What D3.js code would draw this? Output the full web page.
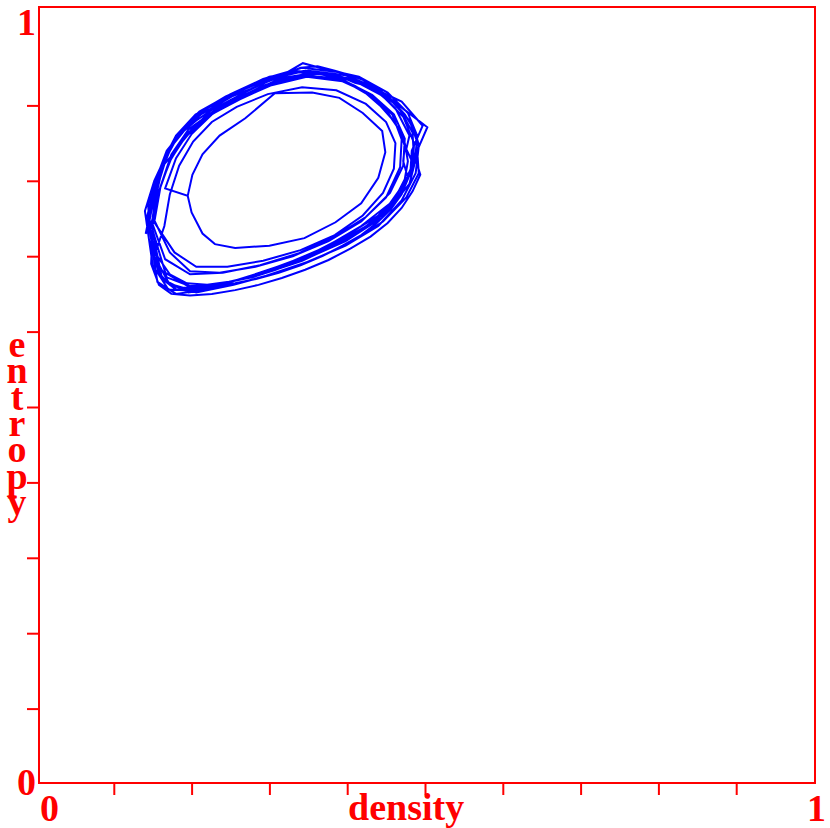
<!DOCTYPE html>
<html>
<head>
<meta charset="utf-8">
<script src="https://cdn.jsdelivr.net/npm/d3@7"></script>
<style>
  body { margin: 0; background: #fff; }
  svg text { font-family: "Liberation Serif", "DejaVu Serif", serif; font-weight: bold; fill: #ff0000; }
</style>
</head>
<body>
<svg id="chart" width="830" height="828"></svg>
<script>
// trajectory in (density, entropy), one row per cycle
const density = [
    0.195, 0.201, 0.214, 0.236, 0.269, 0.307, 0.355, 0.390, 0.420, 0.445, 0.449, 0.440, 0.418, 0.385, 0.345, 0.300, 0.256, 0.230, 0.214, 0.200, 0.195,
    0.166, 0.180, 0.200, 0.226, 0.262, 0.300, 0.345, 0.392, 0.430, 0.458, 0.470, 0.468, 0.450, 0.418, 0.376, 0.330, 0.282, 0.236, 0.198, 0.172,
    0.150, 0.156, 0.168, 0.186, 0.210, 0.250, 0.292, 0.342, 0.390, 0.432, 0.466, 0.484, 0.486, 0.468, 0.436, 0.392, 0.342, 0.290, 0.240, 0.196, 0.160,
    0.142, 0.150, 0.163, 0.180, 0.205, 0.245, 0.288, 0.336, 0.380, 0.425, 0.470, 0.497, 0.483, 0.481, 0.455, 0.418, 0.372, 0.322, 0.270, 0.220, 0.180, 0.156,
    0.148, 0.152, 0.162, 0.176, 0.198, 0.230, 0.275, 0.320, 0.343, 0.372, 0.415, 0.452, 0.478, 0.490, 0.487, 0.472, 0.440, 0.400, 0.352, 0.300, 0.250, 0.205, 0.170, 0.150,
    0.140, 0.152, 0.170, 0.192, 0.220, 0.258, 0.300, 0.350, 0.398, 0.440, 0.470, 0.503, 0.490, 0.492, 0.476, 0.446, 0.404, 0.356, 0.304, 0.254, 0.206, 0.172, 0.152,
    0.165, 0.172, 0.184, 0.202, 0.226, 0.258, 0.298, 0.342, 0.386, 0.424, 0.450, 0.462, 0.460, 0.446, 0.420, 0.384, 0.340, 0.292, 0.246, 0.206, 0.178,
    0.152, 0.160, 0.174, 0.196, 0.228, 0.268, 0.315, 0.362, 0.405, 0.445, 0.472, 0.486, 0.484, 0.466, 0.437, 0.398, 0.350, 0.300, 0.250, 0.204, 0.168,
    0.146, 0.154, 0.166, 0.184, 0.208, 0.244, 0.284, 0.330, 0.378, 0.420, 0.455, 0.480, 0.492, 0.488, 0.470, 0.440, 0.398, 0.348, 0.296, 0.244, 0.196, 0.162,
    0.148, 0.158, 0.172, 0.192, 0.218, 0.256, 0.300, 0.348, 0.394, 0.432, 0.460, 0.474, 0.472, 0.455, 0.424, 0.384, 0.338, 0.288, 0.240, 0.198, 0.166, 0.150,
    0.141, 0.147, 0.150, 0.158, 0.165, 0.178, 0.190, 0.205, 0.222, 0.240, 0.262, 0.283, 0.305, 0.330, 0.352, 0.372, 0.392, 0.410, 0.430, 0.448,
    0.462, 0.470, 0.480, 0.476, 0.486, 0.480, 0.466, 0.450, 0.428, 0.404, 0.378, 0.350, 0.322, 0.296, 0.268, 0.240, 0.214, 0.190, 0.170, 0.158, 0.150,
    0.146, 0.144, 0.152, 0.160, 0.168, 0.182, 0.196, 0.212, 0.232, 0.252, 0.276, 0.298, 0.322, 0.346, 0.366, 0.386, 0.404, 0.424, 0.442, 0.456,
    0.468, 0.474, 0.472, 0.478, 0.470, 0.456, 0.438, 0.418, 0.394, 0.368, 0.340, 0.312, 0.284, 0.256, 0.228, 0.202, 0.180, 0.162, 0.152,
    0.143, 0.150, 0.156, 0.166, 0.176, 0.190, 0.206, 0.226, 0.248, 0.270, 0.294, 0.318, 0.340, 0.362, 0.384, 0.404, 0.420, 0.440, 0.458, 0.474,
    0.486, 0.492, 0.488, 0.494, 0.484, 0.470, 0.452, 0.430, 0.404, 0.376, 0.346, 0.316, 0.286, 0.256, 0.226, 0.198, 0.174, 0.158, 0.148,
    0.150, 0.155, 0.164, 0.174, 0.188, 0.204, 0.222, 0.244, 0.268, 0.292, 0.316, 0.340, 0.364, 0.388, 0.410, 0.432, 0.450, 0.464, 0.474, 0.478,
    0.474, 0.462, 0.444, 0.422, 0.396, 0.368, 0.338, 0.308, 0.278, 0.248, 0.220, 0.194, 0.172, 0.156
];
const entropy = [
    0.780, 0.808, 0.835, 0.860, 0.883, 0.916, 0.917, 0.910, 0.890, 0.866, 0.838, 0.804, 0.770, 0.745, 0.724, 0.714, 0.711, 0.716, 0.730, 0.758, 0.780,
    0.790, 0.830, 0.862, 0.888, 0.910, 0.928, 0.940, 0.935, 0.915, 0.888, 0.855, 0.818, 0.778, 0.746, 0.720, 0.700, 0.686, 0.678, 0.680, 0.705,
    0.752, 0.792, 0.832, 0.866, 0.892, 0.915, 0.935, 0.950, 0.944, 0.925, 0.898, 0.864, 0.826, 0.784, 0.748, 0.718, 0.694, 0.676, 0.664, 0.660, 0.682,
    0.748, 0.785, 0.826, 0.860, 0.888, 0.912, 0.930, 0.944, 0.940, 0.927, 0.905, 0.873, 0.840, 0.808, 0.770, 0.740, 0.712, 0.690, 0.672, 0.656, 0.650, 0.666,
    0.720, 0.770, 0.815, 0.850, 0.880, 0.903, 0.925, 0.942, 0.956, 0.948, 0.938, 0.917, 0.890, 0.860, 0.824, 0.788, 0.754, 0.728, 0.702, 0.682, 0.666, 0.654, 0.656, 0.688,
    0.760, 0.800, 0.840, 0.872, 0.896, 0.918, 0.938, 0.946, 0.940, 0.922, 0.897, 0.871, 0.840, 0.810, 0.778, 0.746, 0.718, 0.695, 0.676, 0.662, 0.652, 0.662, 0.700,
    0.740, 0.782, 0.820, 0.852, 0.878, 0.898, 0.915, 0.924, 0.920, 0.902, 0.878, 0.850, 0.816, 0.784, 0.754, 0.728, 0.708, 0.694, 0.686, 0.686, 0.705,
    0.745, 0.792, 0.835, 0.868, 0.892, 0.914, 0.936, 0.944, 0.935, 0.913, 0.885, 0.850, 0.816, 0.780, 0.746, 0.720, 0.698, 0.680, 0.666, 0.658, 0.672,
    0.748, 0.790, 0.830, 0.862, 0.890, 0.912, 0.930, 0.946, 0.942, 0.930, 0.908, 0.880, 0.846, 0.810, 0.774, 0.740, 0.714, 0.692, 0.674, 0.660, 0.652, 0.670,
    0.742, 0.786, 0.826, 0.860, 0.886, 0.908, 0.926, 0.938, 0.932, 0.914, 0.888, 0.856, 0.820, 0.784, 0.752, 0.726, 0.704, 0.688, 0.678, 0.676, 0.696, 0.742,
    0.730, 0.760, 0.782, 0.800, 0.822, 0.838, 0.856, 0.870, 0.886, 0.896, 0.908, 0.918, 0.928, 0.934, 0.944, 0.940, 0.938, 0.930, 0.925, 0.910,
    0.896, 0.880, 0.860, 0.842, 0.820, 0.796, 0.778, 0.758, 0.742, 0.728, 0.714, 0.700, 0.688, 0.678, 0.670, 0.664, 0.660, 0.658, 0.664, 0.678, 0.705,
    0.740, 0.770, 0.796, 0.818, 0.840, 0.858, 0.874, 0.888, 0.900, 0.912, 0.922, 0.932, 0.940, 0.946, 0.942, 0.936, 0.928, 0.916, 0.900, 0.884,
    0.866, 0.846, 0.826, 0.804, 0.782, 0.762, 0.744, 0.728, 0.714, 0.700, 0.688, 0.678, 0.670, 0.664, 0.660, 0.656, 0.656, 0.670, 0.700,
    0.752, 0.780, 0.806, 0.828, 0.848, 0.866, 0.880, 0.894, 0.906, 0.918, 0.930, 0.940, 0.950, 0.952, 0.946, 0.940, 0.934, 0.922, 0.906, 0.888,
    0.868, 0.848, 0.828, 0.808, 0.786, 0.764, 0.744, 0.726, 0.710, 0.695, 0.682, 0.671, 0.662, 0.655, 0.650, 0.648, 0.650, 0.662, 0.690,
    0.745, 0.776, 0.804, 0.830, 0.852, 0.872, 0.888, 0.902, 0.914, 0.926, 0.934, 0.940, 0.942, 0.936, 0.926, 0.912, 0.894, 0.872, 0.850, 0.826,
    0.802, 0.778, 0.756, 0.738, 0.722, 0.708, 0.694, 0.682, 0.672, 0.666, 0.662, 0.664, 0.676, 0.700
];

const tickValues = [0.1, 0.2, 0.3, 0.4, 0.5, 0.6, 0.7, 0.8, 0.9];
const xTickLabels = ["0", "1"];
const yTickLabels = ["0", "1"];
const xLabel = "density";
const yLabel = "entropy";

const red = "#ff0000";
const blue = "#0000ff";

const svg = d3.select("#chart");

// plot frame and scales
const frame = {left: 39, top: 7, right: 815, bottom: 783};
const x = d3.scaleLinear().domain([0, 1]).range([36, 814]);
const y = d3.scaleLinear().domain([0, 1]).range([784, 30]);

svg.append("rect")
    .attr("x", frame.left)
    .attr("y", frame.top)
    .attr("width", frame.right - frame.left)
    .attr("height", frame.bottom - frame.top)
    .attr("fill", "none")
    .attr("stroke", red)
    .attr("stroke-width", 2);

// ticks
const x_axis = svg.append("g")
    .attr("transform", "translate(0," + frame.bottom + ")")
    .call(d3.axisBottom(x).tickValues(tickValues).tickSize(12).tickFormat(""));
const y_axis = svg.append("g")
    .attr("transform", "translate(" + frame.left + ",0)")
    .call(d3.axisLeft(y).tickValues(tickValues).tickSize(12).tickFormat(""));
[x_axis, y_axis].forEach(g => {
    g.select(".domain").remove();
    g.selectAll(".tick line").attr("stroke", red).attr("stroke-width", 2);
});

// tick labels, only the ends
svg.append("text").attr("x", x(0) + 4).attr("y", 821).attr("font-size", "38px")
    .text(xTickLabels[0]);
svg.append("text").attr("x", x(1) + 12).attr("y", 821).attr("text-anchor", "end").attr("font-size", "38px")
    .text(xTickLabels[1]);
svg.append("text").attr("x", 36).attr("y", y(0) + 11).attr("text-anchor", "end").attr("font-size", "38px")
    .text(yTickLabels[0]);
svg.append("text").attr("x", 36).attr("y", y(1) + 5).attr("text-anchor", "end").attr("font-size", "38px")
    .text(yTickLabels[1]);

// axis titles
svg.append("text").attr("x", 348).attr("y", 820).attr("font-size", "38px")
    .text(xLabel);
svg.selectAll(".ylab")
    .data(yLabel.split(""))
    .join("text")
    .attr("class", "ylab")
    .attr("x", 17)
    .attr("y", (d, i) => 357 + i * 26.3)
    .attr("text-anchor", "middle")
    .attr("font-size", "38px")
    .text(d => d);

// trajectory
const pts = density.map((d, i) => [d, entropy[i]]);
const line = d3.line().x(d => x(d[0])).y(d => y(d[1]));

svg.append("path")
    .datum(pts)
    .attr("d", line)
    .attr("fill", "none")
    .attr("stroke", blue)
    .attr("stroke-width", 2)
    .attr("stroke-linejoin", "miter");
</script>
</body>
</html>
